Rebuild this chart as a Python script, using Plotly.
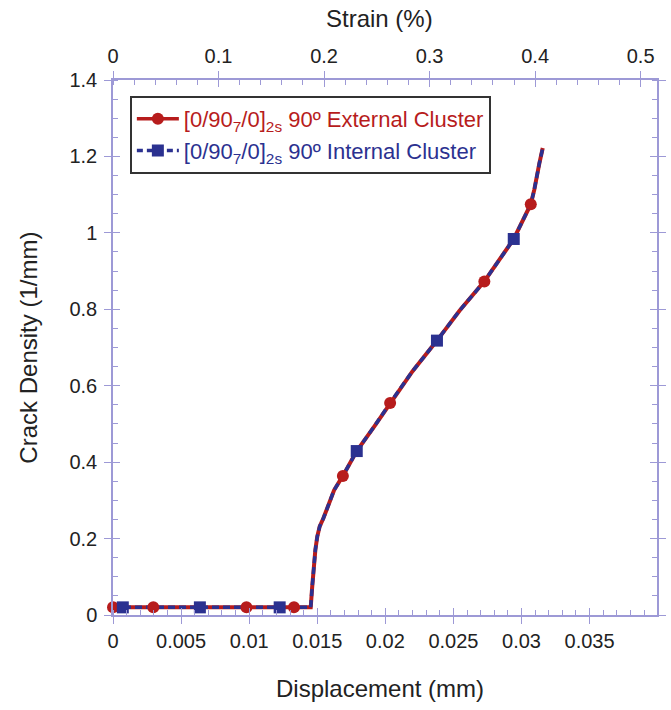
import plotly.graph_objects as go

# ---- data ----
# External cluster curve (displacement mm, crack density 1/mm)
ext_x = [0.0, 0.00296, 0.0098, 0.01329, 0.01452, 0.01462, 0.01474, 0.01486, 0.01500,
         0.01518, 0.01545, 0.01580, 0.01624, 0.01688, 0.01790, 0.01918, 0.02035,
         0.02200, 0.02379, 0.02546, 0.02727, 0.02837, 0.02943, 0.03068, 0.03094,
         0.03131, 0.03156]
ext_y = [0.02, 0.02, 0.02, 0.02, 0.02, 0.07, 0.125, 0.17, 0.205,
         0.232, 0.253, 0.288, 0.327, 0.364, 0.429, 0.493, 0.555,
         0.638, 0.718, 0.797, 0.873, 0.929, 0.984, 1.075, 1.113,
         1.182, 1.222]
# Internal cluster curve
int_x = [0.0, 0.00072, 0.00638, 0.01224, 0.01452, 0.01462, 0.01474, 0.01486, 0.01500,
         0.01518, 0.01545, 0.01580, 0.01624, 0.01688, 0.01790, 0.01918, 0.02035,
         0.02200, 0.02379, 0.02546, 0.02727, 0.02837, 0.02943, 0.03068, 0.03094,
         0.03131, 0.03156]
int_y = [0.02, 0.02, 0.02, 0.02, 0.02, 0.07, 0.125, 0.17, 0.205,
         0.232, 0.253, 0.288, 0.327, 0.364, 0.429, 0.493, 0.555,
         0.638, 0.718, 0.797, 0.873, 0.929, 0.984, 1.075, 1.113,
         1.182, 1.222]
# Marker positions
ext_mx = [0.0, 0.00296, 0.0098, 0.01329, 0.01688, 0.02035, 0.02727, 0.03068]
ext_my = [0.02, 0.02, 0.02, 0.02, 0.364, 0.555, 0.873, 1.075]
int_mx = [0.00072, 0.00638, 0.01224, 0.01790, 0.02379, 0.02943]
int_my = [0.02, 0.02, 0.02, 0.429, 0.718, 0.984]

x_range = [0, 0.03995]
strain_range = [0, 0.5155]
y_range = [0, 1.4]

x_title = "Displacement (mm)"
top_title = "Strain (%)"
y_title = "Crack Density (1/mm)"
ext_name = '<span style="color:#b71c1c">[0/90<sub>7</sub>/0]<sub>2s</sub> 90º External Cluster</span>'
int_name = '<span style="color:#2b3190">[0/90<sub>7</sub>/0]<sub>2s</sub> 90º Internal Cluster</span>'

RED = "#b71c1c"
BLUE = "#2b3190"
AX = "#9d99d6"
FONT = "Liberation Sans, Arial, sans-serif"

fig = go.Figure()
fig.add_trace(go.Scatter(x=ext_x, y=ext_y, mode="lines", line=dict(color=RED, width=4),
                         showlegend=False, hoverinfo="skip"))
fig.add_trace(go.Scatter(x=int_x, y=int_y, mode="lines",
                         line=dict(color=BLUE, width=3.5, dash="7px,4px"),
                         showlegend=False, hoverinfo="skip"))
fig.add_trace(go.Scatter(x=ext_mx, y=ext_my, mode="markers", cliponaxis=False,
                         marker=dict(color=RED, size=12, symbol="circle"), showlegend=False))
fig.add_trace(go.Scatter(x=int_mx, y=int_my, mode="markers", cliponaxis=False,
                         marker=dict(color=BLUE, size=12, symbol="square"), showlegend=False))
# legend entries
fig.add_trace(go.Scatter(x=[None], y=[None], mode="lines+markers", name=ext_name,
                         line=dict(color=RED, width=3.5),
                         marker=dict(color=RED, size=12, symbol="circle")))
fig.add_trace(go.Scatter(x=[None], y=[None], mode="lines+markers", name=int_name,
                         line=dict(color=BLUE, width=3.5, dash="6px,4px"),
                         marker=dict(color=BLUE, size=12, symbol="square")))
# dummy traces to activate overlay axes
fig.add_trace(go.Scatter(x=[None], y=[None], xaxis="x2", yaxis="y", showlegend=False, hoverinfo="skip"))
fig.add_trace(go.Scatter(x=[None], y=[None], xaxis="x3", yaxis="y", showlegend=False, hoverinfo="skip"))
fig.add_trace(go.Scatter(x=[None], y=[None], xaxis="x4", yaxis="y", showlegend=False, hoverinfo="skip"))
fig.add_trace(go.Scatter(x=[None], y=[None], xaxis="x", yaxis="y2", showlegend=False, hoverinfo="skip"))

tickfont = dict(family=FONT, size=20, color="#222")
titlefont = dict(family=FONT, size=24, color="#222")

common = dict(showgrid=False, zeroline=False, linecolor=AX, linewidth=1.5,
              tickcolor=AX, tickwidth=1.2, automargin=False)

fig.update_layout(
    width=671, height=710,
    margin=dict(l=113, r=14, t=80, b=95),
    paper_bgcolor="white", plot_bgcolor="white",
    font=dict(family=FONT, color="#222"),
    xaxis=dict(range=x_range, dtick=0.005, tick0=0, ticks="outside", ticklen=7,
               showline=True, tickfont=tickfont,
               minor=dict(dtick=0.001, ticks="inside", ticklen=5, tickcolor=AX),
               **common),
    xaxis2=dict(range=strain_range, dtick=0.1, tick0=0, ticks="outside", ticklen=7,
                side="top", overlaying="x", anchor="y", showline=True, tickfont=tickfont,
                minor=dict(dtick=0.02, ticks="inside", ticklen=5, tickcolor=AX),
                **common),
    xaxis3=dict(range=x_range, dtick=0.005, tick0=0, ticks="inside", ticklen=7,
                overlaying="x", anchor="y", showticklabels=False, showline=False,
                **common),
    xaxis4=dict(range=strain_range, dtick=0.1, tick0=0, ticks="inside", ticklen=7,
                side="top", overlaying="x", anchor="y", showticklabels=False, showline=False,
                **common),
    yaxis=dict(range=y_range, dtick=0.2, tick0=0, ticks="outside", ticklen=7,
               showline=True, mirror="ticks", tickfont=tickfont, ticklabelstandoff=3,
               minor=dict(dtick=0.05, ticks="inside", ticklen=5, tickcolor=AX),
               **common),
    yaxis2=dict(range=y_range, dtick=0.2, tick0=0, ticks="inside", ticklen=7,
                overlaying="y", anchor="x", mirror="ticks", showticklabels=False,
                showline=False, **common),
    legend=dict(x=0.031, y=0.97, xanchor="left", yanchor="top",
                bgcolor="white", bordercolor="#333", borderwidth=2,
                font=dict(family=FONT, size=22), itemwidth=42,
                tracegroupgap=0),
    showlegend=True,
    annotations=[
        dict(text=x_title, xref="paper", yref="paper", x=0.49, y=-0.137,
             xanchor="center", yanchor="middle", showarrow=False, font=titlefont),
        dict(text=top_title, xref="paper", yref="paper", x=0.49, y=1.1155,
             xanchor="center", yanchor="middle", showarrow=False, font=titlefont),
        dict(text=y_title, xref="paper", yref="paper", x=-0.156, y=0.5,
             xanchor="center", yanchor="middle", textangle=-90, showarrow=False,
             font=titlefont),
    ],
)

fig.write_html("out.html")
